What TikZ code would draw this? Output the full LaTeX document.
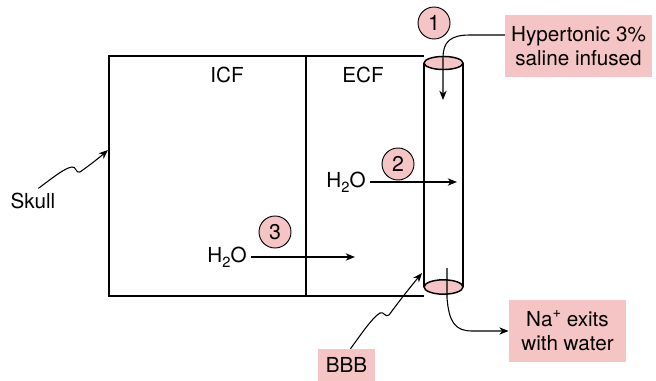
\documentclass[tikz,border=0pt]{standalone}
\usepackage{fontspec}
\setmainfont{TeX Gyre Heros}
\usetikzlibrary{arrows.meta,positioning}
\definecolor{salinepink}{RGB}{245,196,196}
\tikzset{
  wall/.style={draw=black,line width=1.6pt},
  divider/.style={draw=black,line width=0.8pt},
  rim/.style={draw=black,line width=1.1pt,fill=salinepink},
  flow/.style={draw=black,line width=0.8pt,-{Stealth[length=7pt,width=5.5pt]}},
  stepmark/.style={circle,draw=black,line width=0.7pt,fill=salinepink,
    minimum size=24pt,inner sep=0pt,font=\fontsize{16}{18}\selectfont},
  note/.style={fill=salinepink,align=center,inner sep=2pt}
}
\newcommand{\ionplus}{\raisebox{0.42em}{\fontsize{11}{11}\selectfont +}}
\newcommand{\sublow}[1]{\raisebox{-0.25em}{\fontsize{11}{11}\selectfont #1}}

\begin{document}
\begin{tikzpicture}[x=0.75pt,y=-0.75pt,font=\fontsize{15.5}{18}\selectfont]
  \useasboundingbox (0,0) rectangle (656,381);

  % Compartimentos: craneo con LIC y LEC
  \draw[wall] (424,56) -- (109,56) -- (109,296) -- (424,296);
  \draw[divider] (306,56) -- (306,296);

  % Capilar como tubo
  \draw[wall] (424,63) -- (424,287);
  \draw[wall] (463,63) -- (463,287);
  \draw[rim] (443.5,63) ellipse [x radius=14.6pt,y radius=4.9pt];
  \draw[rim] (443.5,287) ellipse [x radius=14.6pt,y radius=5.4pt];

  \node (icf) at (227,75) {ICF};
  \node (ecf) at (363,75) {ECF};

  \node[note,minimum width=110pt,minimum height=46.5pt] (infuse) at (578.5,46)
    {Hypertonic 3\%\\saline infused};
  \node[note,minimum width=88pt,minimum height=46.5pt] (naexit) at (567.5,331)
    {Na\ionplus{} exits\\with water};
  \node[note,minimum width=43pt,minimum height=24pt] (bbb) at (346.5,365) {BBB};
  \node (skull) at (33,201) {Skull};

  \node[stepmark] (one) at (434,23) {1};
  \node[stepmark] (two) at (398,164) {2};
  \node[stepmark] (three) at (275,232) {3};

  \node (water2) at (346,182) {H\sublow{2}O};
  \node (water3) at (227,257) {H\sublow{2}O};

  \coordinate (entry) at (443,100);
  \coordinate (cross2) at (457,182);
  \coordinate (cross3) at (355,257);
  \coordinate (skullwall) at (108,150);
  \coordinate (bbbwall) at (422,273);

  % Flechas de flujo
  \draw[flow] ([yshift=8.25pt]infuse.west) -- (470,35)
    .. controls (450,35) and (443,42) .. (443,58) -- (entry);
  \draw[flow] (water2.east) -- (cross2);
  \draw[flow] (water3.east) -- (cross3);
  \draw[flow] (447,268) -- (447,298)
    .. controls (449,322) and (455,331) .. (472,331) -- (naexit.west);

  % Flechas onduladas de rotulos
  \draw[flow] ([xshift=4pt]skull.north)
    .. controls (55,176) and (65,168) .. (72,167)
    .. controls (76,166) and (76,174) .. (80,172)
    .. controls (90,165) and (100,157) .. (skullwall);
  \draw[flow] ([xshift=3pt]bbb.north)
    .. controls (362,333) and (372,318) .. (380,313)
    .. controls (384,311) and (385,318) .. (389,315)
    .. controls (400,300) and (412,285) .. (bbbwall);
\end{tikzpicture}
\end{document}
